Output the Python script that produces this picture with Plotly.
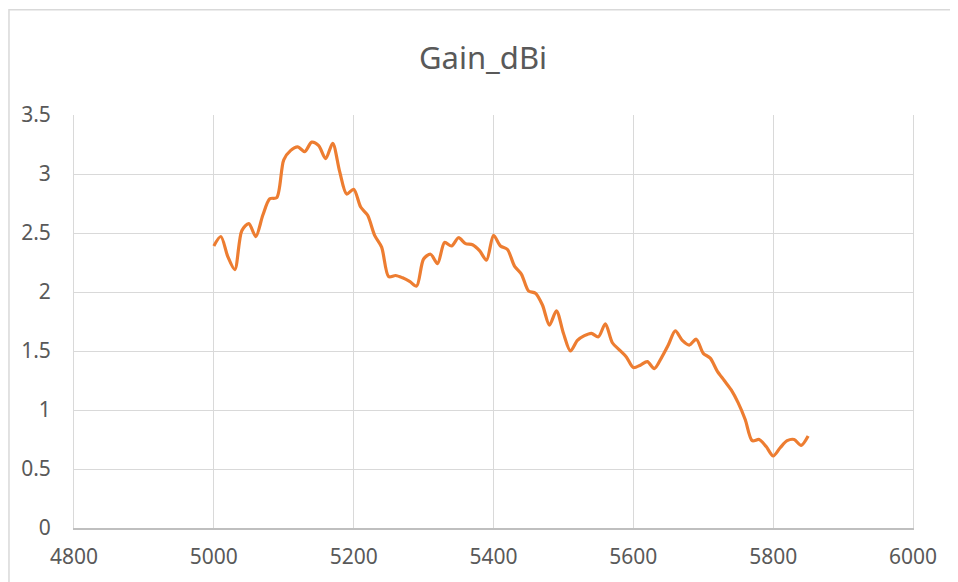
import plotly.graph_objects as go

# frequency in MHz, gain in dBi
freq_mhz = list(range(5000, 5851, 10))
gain_dbi = [
    2.39, 2.47, 2.30, 2.19, 2.52, 2.58, 2.47, 2.65, 2.79, 2.80,
    3.12, 3.20, 3.23, 3.19, 3.27, 3.24, 3.13, 3.26, 3.02, 2.83,
    2.87, 2.72, 2.65, 2.48, 2.38, 2.13, 2.14, 2.12, 2.09, 2.05,
    2.28, 2.32, 2.24, 2.42, 2.39, 2.46, 2.41, 2.40, 2.35, 2.27,
    2.48, 2.39, 2.36, 2.22, 2.15, 2.01, 1.99, 1.89, 1.72, 1.84,
    1.65, 1.50, 1.59, 1.63, 1.65, 1.62, 1.73, 1.57, 1.51, 1.45,
    1.36, 1.38, 1.41, 1.35, 1.44, 1.55, 1.67, 1.59, 1.55, 1.60,
    1.48, 1.44, 1.33, 1.25, 1.17, 1.06, 0.92, 0.74, 0.75, 0.69,
    0.61, 0.68, 0.74, 0.75, 0.70, 0.78,
]
x_ticks = [4800, 5000, 5200, 5400, 5600, 5800, 6000]
y_ticks = [0, 0.5, 1, 1.5, 2, 2.5, 3, 3.5]
y_tick_text = ["0", "0.5", "1", "1.5", "2", "2.5", "3", "3.5"]

TEXT = "#595959"
GRID = "#D9D9D9"
FONT = "Noto Sans"

fig = go.Figure()
fig.add_trace(
    go.Scatter(
        x=freq_mhz,
        y=gain_dbi,
        mode="lines",
        name="Gain_dBi",
        line={"color": "#ED7D31", "width": 3.2, "shape": "spline", "smoothing": 0.8},
    )
)

# chart-area border (cropped at right/bottom like the reference)
fig.add_shape(
    type="rect", xref="paper", yref="paper",
    x0=-0.0775, x1=1.2, y0=-0.5, y1=1.255,
    line={"color": GRID, "width": 1.5}, fillcolor="rgba(0,0,0,0)",
    layer="below",
)

# page body has an 8px margin, so the figure is a bit smaller than the window
fig.update_layout(
    width=950,
    height=574,
    margin={"l": 66, "r": 45, "t": 107, "b": 51},
    paper_bgcolor="white",
    plot_bgcolor="white",
    showlegend=False,
    title={
        "text": "Gain_dBi",
        "x": 0.5, "xanchor": "center",
        "y": 0.913, "yanchor": "middle",
        "font": {"family": FONT, "size": 31, "color": TEXT},
    },
    font={"family": FONT, "color": TEXT},
)
fig.update_xaxes(
    range=[4800, 6000],
    tickvals=x_ticks,
    showgrid=True,
    gridcolor=GRID,
    gridwidth=1,
    zeroline=False,
    showline=True,
    linecolor="#BFBFBF",
    linewidth=1.5,
    ticks="",
    ticklabelstandoff=9,
    tickfont={"family": FONT, "size": 21, "color": TEXT},
)
fig.update_yaxes(
    range=[0, 3.5],
    tickvals=y_ticks,
    ticktext=y_tick_text,
    showgrid=True,
    gridcolor=GRID,
    gridwidth=1,
    zeroline=False,
    showline=True,
    mirror=True,
    linecolor=GRID,
    linewidth=1,
    ticks="",
    ticklabelstandoff=18,
    tickfont={"family": FONT, "size": 21, "color": TEXT},
)

fig.write_html("out.html")
